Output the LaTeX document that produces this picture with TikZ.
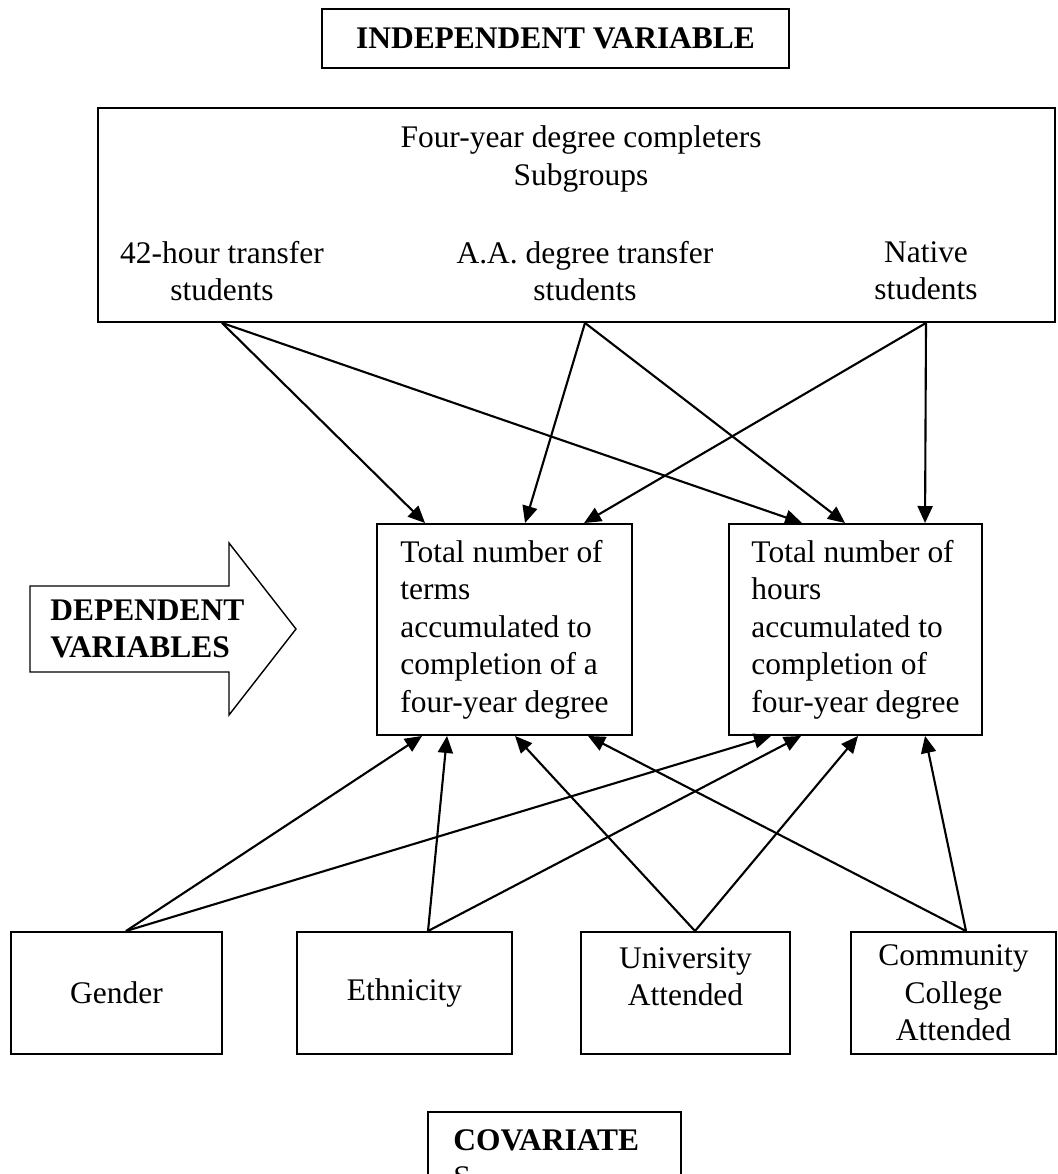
\documentclass[tikz,border=0pt]{standalone}
\usepackage{fontspec}
\setmainfont{Liberation Serif}
\usetikzlibrary{arrows.meta}

\tikzset{
  box/.style={draw, line width=1.1pt, inner sep=0pt},
  link/.style={-{Triangle[length=0.34cm, width=0.3cm]}, line width=1.2pt},
}

\begin{document}
\begin{tikzpicture}[font=\fontsize{17.9}{21.3}\selectfont]
        \clip (0, 0) rectangle (21.14, 23.48);
        \fill[white] (0, 0) rectangle (21.14, 23.48);
        \node[box, minimum width=9.34cm, minimum height=1.18cm] (indep) at (11.11, 22.71) {\textbf{INDEPENDENT VARIABLE}};
        \node[box, minimum width=19.14cm, minimum height=4.28cm] (sub) at (11.53, 19.18) {};
        \node[align=center] (head) at (11.62, 20.30) {Four-year degree completers\\Subgroups};
        \node[align=center] (grp42) at (4.44, 18.06) {42-hour transfer\\students};
        \node[align=center] (grpaa) at (11.70, 18.06) {A.A. degree transfer\\students};
        \node[align=center] (grpnat) at (18.52, 18.06) {Native\\students};
        \node[box, minimum width=5.10cm, minimum height=4.22cm, align=left] (terms) at (10.09, 10.89) {Total number of\\terms\\accumulated to\\completion of a\\four-year degree};
        \node[box, minimum width=5.06cm, minimum height=4.22cm, align=left] (hours) at (17.11, 10.89) {Total number of\\hours\\accumulated to\\completion of\\four-year degree};
        \draw[line width=0.8pt, fill=white] (0.60, 11.76) -- (4.58, 11.76) -- (4.58, 12.62) -- (5.92, 10.90) -- (4.58, 9.18) -- (4.58, 10.04) -- (0.60, 10.04) -- cycle;
        \node[align=left, anchor=west, inner sep=0pt] (dep) at (1.0, 10.90) {\textbf{DEPENDENT}\\\textbf{VARIABLES}};
        \node[box, minimum width=4.22cm, minimum height=2.44cm] (gender) at (2.33, 3.62) {Gender};
        \node[box, minimum width=4.30cm, minimum height=2.44cm] (ethnic) at (8.09, 3.62) {Ethnicity};
        \node[box, minimum width=4.18cm, minimum height=2.44cm, align=center] (univ) at (13.71, 3.62) {University\\Attended\\[-0.32cm]\strut};
        \node[box, minimum width=4.10cm, minimum height=2.44cm, align=center] (college) at (19.07, 3.62) {Community\\College\\Attended};
        \node[box, anchor=north west, minimum width=5.06cm, minimum height=3cm] (cov) at (8.54, 1.26) {};
        \node[align=left, anchor=west, inner sep=0pt] (covtxt) at (9.06, 0.30) {\textbf{COVARIATE}\\S};
        \draw[link] (grp42 |- sub.south) -- ([xshift=0.98cm]terms.north west);
        \draw[link] (grp42 |- sub.south) -- ([xshift=1.48cm]hours.north west);
        \draw[link] (grpaa |- sub.south) -- ([xshift=2.98cm]terms.north west);
        \draw[link] (grpaa |- sub.south) -- ([xshift=2.34cm]hours.north west);
        \draw[link] (grpnat |- sub.south) -- ([xshift=4.16cm]terms.north west);
        \draw[link] (grpnat |- sub.south) -- ([xshift=3.94cm]hours.north west);
        \draw[link] ([xshift=0.19cm]gender.north) -- ([xshift=0.92cm]terms.south west);
        \draw[link] ([xshift=0.19cm]gender.north) -- ([xshift=0.86cm]hours.south west);
        \draw[link] ([xshift=0.47cm]ethnic.north) -- ([xshift=1.42cm]terms.south west);
        \draw[link] ([xshift=0.47cm]ethnic.north) -- ([xshift=1.46cm]hours.south west);
        \draw[link] ([xshift=0.19cm]univ.north) -- ([xshift=2.78cm]terms.south west);
        \draw[link] ([xshift=0.19cm]univ.north) -- ([xshift=2.60cm]hours.south west);
        \draw[link] ([xshift=0.25cm]college.north) -- ([xshift=4.24cm]terms.south west);
        \draw[link] ([xshift=0.25cm]college.north) -- ([xshift=3.94cm]hours.south west);
\end{tikzpicture}
\end{document}
